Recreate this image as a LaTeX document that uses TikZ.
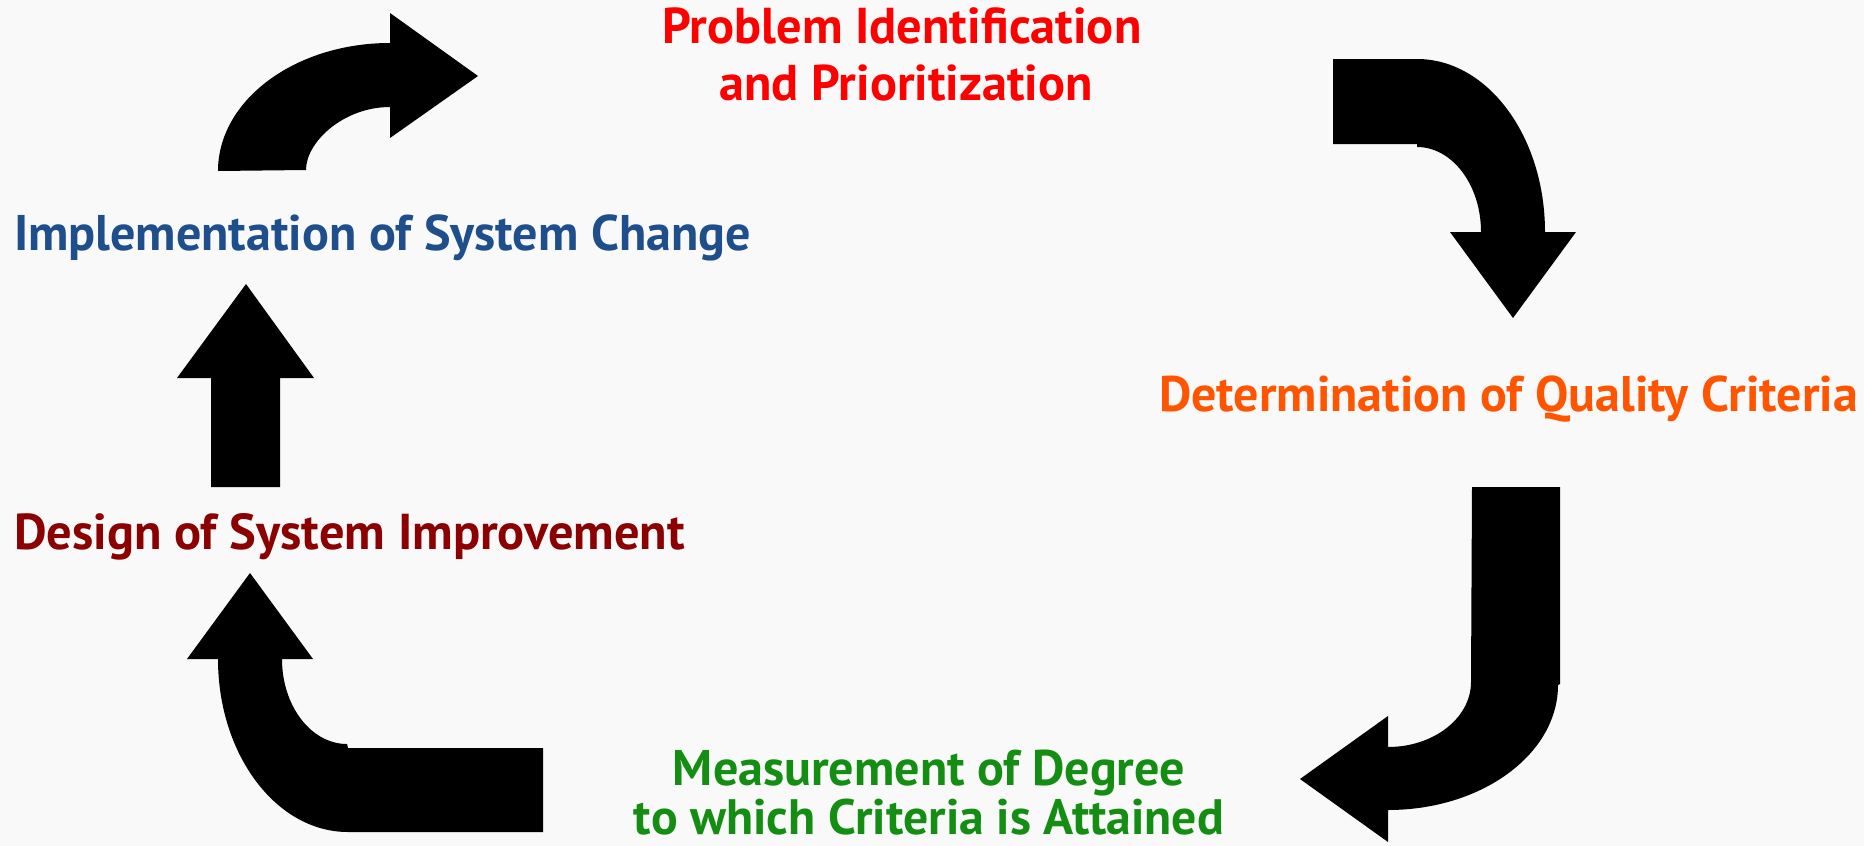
\documentclass[tikz,border=0pt]{standalone}
\usepackage{fontspec}
\setmainfont{PT Sans}
\usepackage{graphicx}
\definecolor{bgc}{HTML}{F9F9F9}
\definecolor{cred}{HTML}{FF0000}
\definecolor{cblue}{HTML}{1F4E8C}
\definecolor{corange}{HTML}{FF5500}
\definecolor{cmaroon}{HTML}{8B0000}
\definecolor{cgreen}{HTML}{138E13}
\newcommand{\fitw}[2]{\resizebox{#1pt}{!}{\bfseries #2}}
\begin{document}
\begin{tikzpicture}[x=1pt,y=-1pt,
  arrowshape/.style={fill=black,draw=none},
  lbl/.style={inner sep=0pt,outer sep=0pt,font=\fontsize{48}{56}\selectfont\bfseries}]
\fill[bgc] (0,0) rectangle (1864,846);
\useasboundingbox (0,0) rectangle (1864,846);
% arrow 1 (top-left, curving right)
\fill[arrowshape] (218,171) .. controls (218,100.3) and (295,43) .. (390,43)
  -- (390,13) -- (478,76) -- (390,138) -- (390,107)
  .. controls (343.6,107) and (306,141.8) .. (306,170) -- cycle;
% arrow 2 (top-right, curving down)
\fill[arrowshape] (1333,59) -- (1417,59) .. controls (1487.7,59) and (1545,136.5) .. (1545,232)
  -- (1576,232) -- (1513,318) -- (1450,232) -- (1481,232)
  .. controls (1481,185) and (1452.3,147) .. (1417,147) -- (1417,144) -- (1333,144) -- cycle;
% arrow 3 (right, J shape)
\fill[arrowshape] (1472,487) -- (1560,487) -- (1560,684) -- (1558,685)
  .. controls (1558,754) and (1481.8,810) .. (1388,810)
  -- (1388,842) -- (1300,779) -- (1388,716) -- (1388,747)
  .. controls (1433.8,747) and (1471,717.9) .. (1471,682) -- cycle;
% arrow 4 (bottom-left, curving up)
\fill[arrowshape] (543,832) -- (348,832) .. controls (276.2,832) and (218,754.5) .. (218,659)
  -- (187,659) -- (250,573) -- (313,659) -- (282,659)
  .. controls (282,705.9) and (311.1,744) .. (347,744) -- (348,748) -- (543,748) -- cycle;
% arrow 5 (left, straight up)
\fill[arrowshape] (211,487) -- (211,378) -- (177,378) -- (246,284) -- (314,378) -- (280,378) -- (280,487) -- cycle;
% labels
\node[lbl,anchor=base,text=cred] (p1) at (902,43) {\fitw{479}{Problem Identification}};
\node[lbl,anchor=base,text=cred] (p2) at (906,100) {\fitw{373}{and Prioritization}};
\node[lbl,anchor=base west,text=corange] (d) at (1159,411) {\fitw{699}{Determination of Quality Criteria}};
\node[lbl,anchor=base,text=cgreen] (m1) at (929,785) {\fitw{512}{Measurement of Degree}};
\node[lbl,anchor=base,text=cgreen] (m2) at (929,834) {\fitw{590}{to which Criteria is Attained}};
\node[lbl,anchor=base west,text=cmaroon] (ds) at (14,549) {\fitw{671}{Design of System Improvement}};
\node[lbl,anchor=base west,text=cblue] (im) at (14,250) {\fitw{737}{Implementation of System Change}};
\end{tikzpicture}
\end{document}
